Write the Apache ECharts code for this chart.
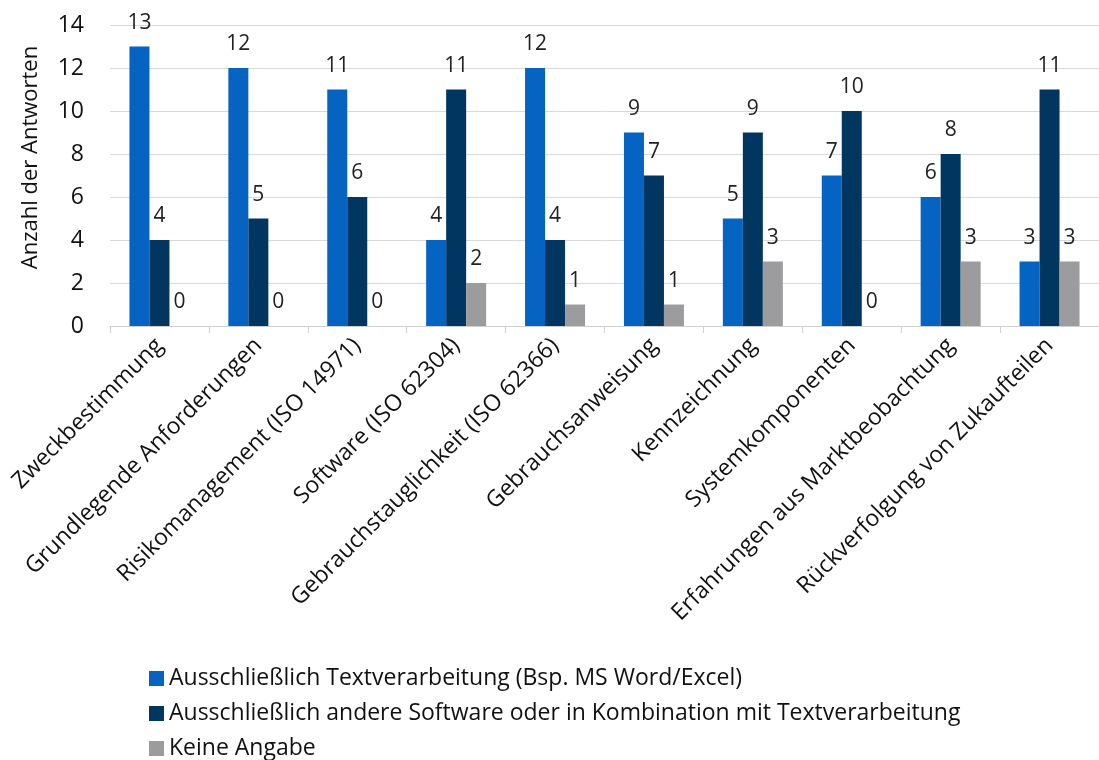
<!DOCTYPE html>
<html>
<head>
<meta charset="utf-8">
<script src="https://cdn.jsdelivr.net/npm/echarts@6/dist/echarts.min.js"></script>
<style>
  html, body { margin: 0; padding: 0; background: #fff; }
  #chart { width: 1099px; height: 760px; }
</style>
</head>
<body>
<div id="chart"></div>
<script>
const categories = [
  'Zweckbestimmung',
  'Grundlegende Anforderungen',
  'Risikomanagement (ISO 14971)',
  'Software (ISO 62304)',
  'Gebrauchstauglichkeit (ISO 62366)',
  'Gebrauchsanweisung',
  'Kennzeichnung',
  'Systemkomponenten',
  'Erfahrungen aus Marktbeobachtung',
  'Rückverfolgung von Zukaufteilen'
];
const seriesNames = [
  'Ausschließlich Textverarbeitung (Bsp. MS Word/Excel)',
  'Ausschließlich andere Software oder in Kombination mit Textverarbeitung',
  'Keine Angabe'
];
const textOnly = [13, 12, 11, 4, 12, 9, 5, 7, 6, 3];
const otherSoftware = [4, 5, 6, 11, 4, 7, 9, 10, 8, 11];
const noAnswer = [0, 0, 0, 2, 1, 1, 3, 0, 3, 3];
const yTicks = { min: 0, max: 14, interval: 2 };

const FONT = '"Open Sans", sans-serif';
const colors = ['#0563c1', '#003660', '#9c9c9e'];

const chart = echarts.init(document.getElementById('chart'));

function barSeries(name, data, color) {
  return {
    name: name,
    type: 'bar',
    data: data,
    barWidth: 20,
    barGap: '0%',
    itemStyle: { color: color },
    label: {
      show: true,
      position: 'top',
      distance: 13,
      color: '#222',
      fontFamily: FONT,
      fontSize: 21
    }
  };
}

chart.setOption({
  animation: false,
  textStyle: { fontFamily: FONT },
  grid: { left: 110, right: -2, top: 25, bottom: 434, containLabel: false },
  legend: {
    orient: 'vertical',
    left: 149,
    top: 667,
    height: 130,
    padding: 0,
    icon: 'rect',
    itemWidth: 15,
    itemHeight: 15,
    itemGap: 12,
    textStyle: { fontSize: 23, color: '#111', fontFamily: FONT },
    data: seriesNames
  },
  xAxis: {
    type: 'category',
    data: categories,
    boundaryGap: true,
    axisLine: { lineStyle: { color: '#d0d0d0', width: 1 } },
    axisTick: { show: true, length: 7, lineStyle: { color: '#d0d0d0' } },
    axisLabel: {
      interval: 0,
      rotate: 45,
      margin: 16,
      color: '#111',
      fontSize: 23,
      fontFamily: FONT
    }
  },
  yAxis: {
    type: 'value',
    min: yTicks.min,
    max: yTicks.max,
    interval: yTicks.interval,
    name: 'Anzahl der Antworten',
    nameLocation: 'middle',
    nameGap: 68,
    nameTextStyle: { fontSize: 22, color: '#111', fontFamily: FONT, padding: [0, 0, 0, 36] },
    axisLine: { show: false },
    axisTick: { show: false },
    axisLabel: { color: '#111', fontSize: 23, margin: 26, fontFamily: FONT },
    splitLine: { lineStyle: { color: '#d9d9d9', width: 1 } }
  },
  series: [
    barSeries(seriesNames[0], textOnly, colors[0]),
    barSeries(seriesNames[1], otherSoftware, colors[1]),
    barSeries(seriesNames[2], noAnswer, colors[2])
  ]
});
</script>
</body>
</html>
